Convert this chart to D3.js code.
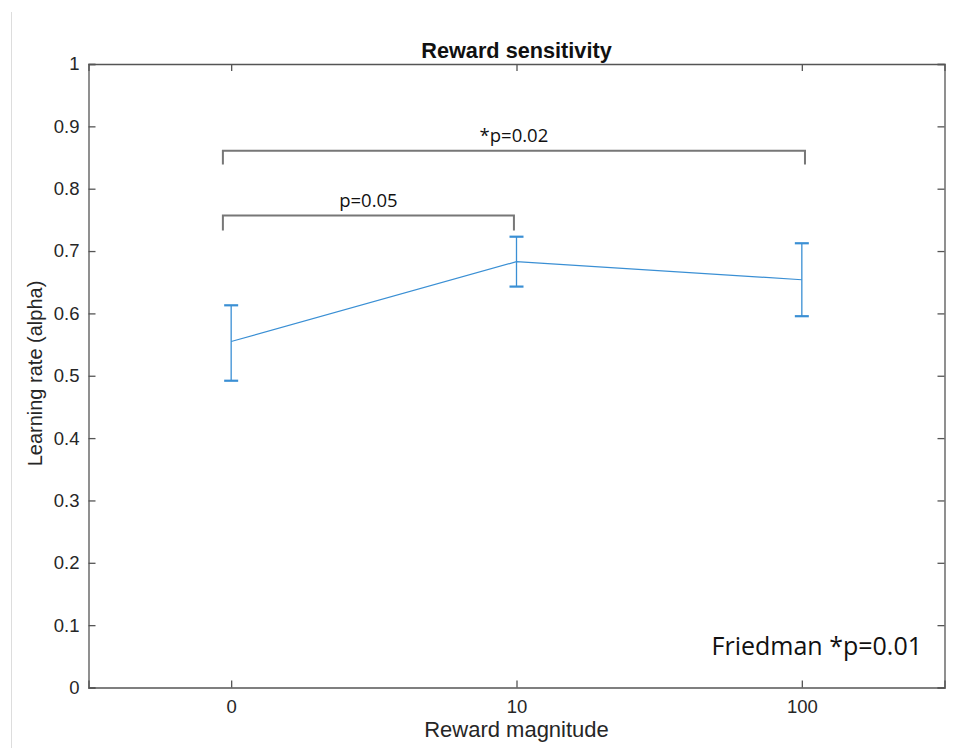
<!DOCTYPE html>
<html><head><meta charset="utf-8">
<script src="https://cdn.jsdelivr.net/npm/d3@7"></script>
<style>body{margin:0;background:#fff}svg{display:block}</style>
</head><body>
<svg id="c" width="971" height="748"></svg>
<script>
const categories = ["0", "10", "100"];
const means = [0.555, 0.683, 0.654];
const upper = [0.613, 0.723, 0.7125];
const lower = [0.492, 0.643, 0.5955];
const yTicks = [0,0.1,0.2,0.3,0.4,0.5,0.6,0.7,0.8,0.9,1];
// bracket ends in x-axis units (category index 1..3)
const brackets = [
  {x0:0.971, x1:3.011, top:0.861, foot:0.839, label:"*p=0.02"},
  {x0:0.971, x1:1.991, top:0.757, foot:0.733, label:"p=0.05"}
];
const title = "Reward sensitivity";
const xLabel = "Reward magnitude";
const yLabel = "Learning rate (alpha)";
const note = "Friedman *p=0.01";

const svg = d3.select("#c");
const L=88.5, R=944.5, T=64, B=687.5;
const x = d3.scaleLinear().domain([0.5,3.5]).range([L,R]);
const y = d3.scaleLinear().domain([0,1]).range([B,T]);
const axisCol="#262626", boxCol="#555";
const font="'Liberation Sans', Arial, sans-serif";

// page border line
svg.append("line").attr("x1",11.5).attr("x2",11.5).attr("y1",12).attr("y2",748).attr("stroke","#ddd").attr("stroke-width",1);

// axes
const yAx = svg.append("g").attr("transform",`translate(${L},0)`)
  .call(d3.axisLeft(y).tickValues(yTicks).tickSize(-7).tickPadding(9).tickFormat(d=>d3.format("")(+d.toFixed(1))));
const yAxR = svg.append("g").attr("transform",`translate(${R},0)`)
  .call(d3.axisRight(y).tickValues(yTicks).tickSize(-7).tickFormat(""));
const xAx = svg.append("g").attr("transform",`translate(0,${B})`)
  .call(d3.axisBottom(x).tickValues([1,2,3]).tickSize(-7).tickPadding(12).tickFormat((d,i)=>categories[i]));
const xAxT = svg.append("g").attr("transform",`translate(0,${T})`)
  .call(d3.axisTop(x).tickValues([1,2,3]).tickSize(-7).tickFormat(""));
[yAx,yAxR,xAx,xAxT].forEach(g=>{
  g.select(".domain").attr("stroke",boxCol).attr("stroke-width",1.3);
  g.selectAll(".tick line").attr("stroke",boxCol).attr("stroke-width",1.3);
  g.selectAll("text").attr("fill",axisCol).style("font-family",font).style("font-size","18.5px");
});

// title & labels
svg.append("text").attr("x",(L+R)/2).attr("y",58).attr("text-anchor","middle")
  .style("font-family",font).style("font-weight","bold").style("font-size","21.7px").attr("fill","#111").text(title);
svg.append("text").attr("x",(L+R)/2).attr("y",737).attr("text-anchor","middle")
  .style("font-family",font).style("font-size","22px").attr("fill",axisCol).text(xLabel);
svg.append("text").attr("transform",`translate(35,373.5) rotate(-90)`).attr("text-anchor","middle")
  .attr("dy","0.35em")
  .style("font-family",font).style("font-size","20px").attr("fill",axisCol).text(yLabel);

// line + errorbars
const blue="#3a8fd4";
const idx=[1,2,3];
svg.append("path").datum(means).attr("fill","none").attr("stroke",blue).attr("stroke-width",1.2)
  .attr("d", d3.line().x((d,i)=>x(idx[i])).y(d=>y(d)));
const eb = svg.append("g");
means.forEach((m,i)=>{
  const cx=x(idx[i]);
  eb.append("line").attr("x1",cx).attr("x2",cx).attr("y1",y(lower[i])).attr("y2",y(upper[i])).attr("stroke",blue).attr("stroke-width",1.3);
  [upper[i],lower[i]].forEach(v=>{
    eb.append("line").attr("x1",cx-7).attr("x2",cx+7).attr("y1",y(v)).attr("y2",y(v)).attr("stroke",blue).attr("stroke-width",2.2);
  });
});

// brackets
brackets.forEach(b=>{
  const x0 = x(b.x0), x1 = x(b.x1);
  svg.append("path").attr("fill","none").attr("stroke","#777").attr("stroke-width",2)
    .attr("d",`M${x0},${y(b.foot)}V${y(b.top)}H${x1}V${y(b.foot)}`);
  svg.append("text").attr("x",(x0+x1)/2).attr("y",y(b.top)-9).attr("text-anchor","middle")
    .style("font-family","'Open Sans', 'Noto Sans', sans-serif").style("font-size","18.5px").attr("fill","#111").text(b.label);
});

svg.append("text").attr("x",922).attr("y",655).attr("text-anchor","end")
  .style("font-family","'Open Sans', 'Noto Sans', sans-serif").style("font-size","25px").attr("fill","#111").text(note);
</script>
</body></html>
